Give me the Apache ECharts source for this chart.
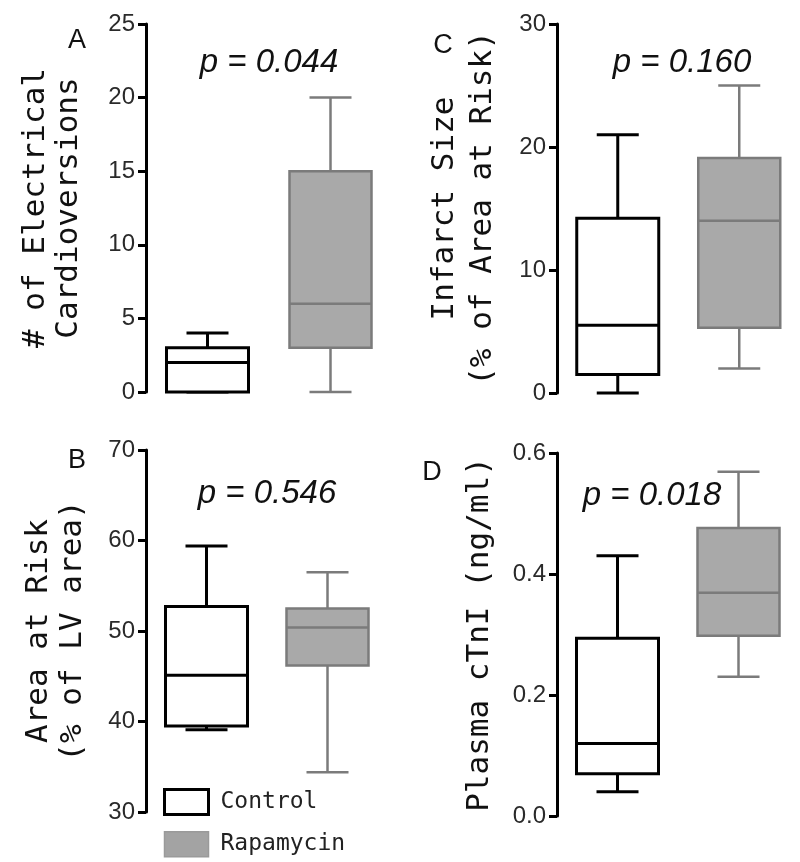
<!DOCTYPE html>
<html lang="en">
<head>
    <meta charset="UTF-8">
    <title>Rapamycin box plots</title>
    <script src="https://cdn.jsdelivr.net/npm/echarts@6/dist/echarts.min.js"></script>
    <style>
        html, body { margin: 0; padding: 0; background: #fff; }
        #main { width: 800px; height: 862px; }
    </style>
</head>
<body>
<div id="main"></div>
<script>
    // groups on every panel
    var groups = ['Control', 'Rapamycin'];

    // box values: [min, Q1, median, Q3, max]
    var cardioControl = [0, 0, 2, 3, 4];
    var cardioRapa = [0, 3, 6, 15, 20];
    var aarControl = [39.1, 39.5, 45.1, 52.7, 59.4];
    var aarRapa = [34.4, 46.2, 50.4, 52.5, 56.5];
    var infarctControl = [0, 1.5, 5.5, 14.2, 21];
    var infarctRapa = [2, 5.3, 14, 19.1, 25];
    var ctniControl = [0.04, 0.07, 0.12, 0.294, 0.43];
    var ctniRapa = [0.23, 0.298, 0.369, 0.476, 0.569];

    // p values, panels A B C D
    var pValues = ['0.044', '0.546', '0.160', '0.018'];

    var monoFont = '"DejaVu Sans Mono", "Liberation Mono", monospace';
    var sansFont = '"Liberation Sans", Arial, sans-serif';

    var styles = {
        Control: { fill: '#ffffff', stroke: '#000000', lineWidth: 3 },
        Rapamycin: { fill: '#a9a9a9', stroke: '#7b7b7b', lineWidth: 2.5 }
    };

    // draws one box with whiskers using the axis scales
    function renderBox(params, api) {
        var idx = api.value(0);
        var x = api.coord([idx, 0])[0];
        var y = [];
        for (var k = 1; k <= 5; k++) {
            y.push(api.coord([idx, api.value(k)])[1]);
        }
        var st = styles[params.seriesName];
        var boxHalf = 41, capHalf = 21;
        var lineStyle = { stroke: st.stroke, lineWidth: st.lineWidth };
        return {
            type: 'group',
            children: [
                { type: 'line', shape: { x1: x, y1: y[0], x2: x, y2: y[1] }, style: lineStyle },
                { type: 'line', shape: { x1: x, y1: y[3], x2: x, y2: y[4] }, style: lineStyle },
                { type: 'line', shape: { x1: x - capHalf, y1: y[0], x2: x + capHalf, y2: y[0] }, style: lineStyle },
                { type: 'line', shape: { x1: x - capHalf, y1: y[4], x2: x + capHalf, y2: y[4] }, style: lineStyle },
                {
                    type: 'rect',
                    shape: { x: x - boxHalf, y: y[3], width: boxHalf * 2, height: y[1] - y[3] },
                    style: { fill: st.fill, stroke: st.stroke, lineWidth: st.lineWidth }
                },
                { type: 'line', shape: { x1: x - boxHalf, y1: y[2], x2: x + boxHalf, y2: y[2] }, style: lineStyle }
            ]
        };
    }

    function yAxisFor(gridIndex, min, max, interval, name, gap, lineHeight, formatter) {
        return {
            gridIndex: gridIndex,
            type: 'value',
            min: min,
            max: max,
            interval: interval,
            name: name,
            nameLocation: 'middle',
            nameRotate: 90,
            nameGap: gap,
            nameTextStyle: {
                fontFamily: monoFont,
                fontSize: 31,
                color: '#111',
                lineHeight: lineHeight,
                align: 'center'
            },
            splitLine: { show: false },
            axisLine: { show: true, lineStyle: { color: '#000', width: 3 } },
            axisTick: { show: true, inside: false, length: 8, lineStyle: { color: '#000', width: 3 } },
            axisLabel: {
                margin: 11,
                fontFamily: sansFont,
                fontSize: 24,
                color: '#2a2a2a',
                formatter: formatter
            }
        };
    }

    function xAxisFor(gridIndex) {
        return {
            gridIndex: gridIndex,
            type: 'category',
            data: groups,
            show: false
        };
    }

    function boxSeries(gridIndex, name, idx, values) {
        return {
            name: name,
            type: 'custom',
            xAxisIndex: gridIndex,
            yAxisIndex: gridIndex,
            renderItem: renderBox,
            encode: { x: 0, y: [1, 2, 3, 4, 5] },
            itemStyle: { color: styles[name].fill, borderColor: styles[name].stroke },
            data: [[idx].concat(values)],
            silent: true
        };
    }

    var fixed1 = function (v) { return v.toFixed(1); };

    function letter(x, y, text) {
        return { type: 'text', style: { x: x, y: y, text: text, fontFamily: sansFont, fontSize: 27, fill: '#111', align: 'center', verticalAlign: 'middle' } };
    }

    function pLabel(x, y, value) {
        return { type: 'text', style: { x: x, y: y, text: 'p = ' + value, fontFamily: sansFont, fontStyle: 'italic', fontSize: 33, fill: '#111', align: 'center', verticalAlign: 'middle' } };
    }

    var option = {
        animation: false,
        grid: [
            { left: 146, top: 24, width: 246, height: 368 },
            { left: 146, top: 450, width: 242, height: 362 },
            { left: 557, top: 24, width: 246, height: 369 },
            { left: 557, top: 453, width: 242, height: 363 }
        ],
        xAxis: [xAxisFor(0), xAxisFor(1), xAxisFor(2), xAxisFor(3)],
        yAxis: [
            yAxisFor(0, 0, 25, 5, '# of Electrical\nCardioversions', 61, 33),
            yAxisFor(1, 30, 70, 10, 'Area at Risk\n(% of LV area)', 56, 34),
            yAxisFor(2, 0, 30, 10, 'Infarct Size\n(% of Area at Risk)', 55, 38),
            yAxisFor(3, 0, 0.6, 0.2, 'Plasma cTnI (ng/ml)', 60, 34, fixed1)
        ],
        legend: {
            orient: 'vertical',
            left: 158,
            top: 783,
            icon: 'rect',
            itemWidth: 44,
            itemHeight: 25,
            itemGap: 15,
            selectedMode: false,
            textStyle: {
                fontFamily: monoFont,
                fontSize: 23,
                color: '#222',
                padding: [0, 0, 0, 7]
            },
            data: [
                { name: 'Control', itemStyle: { color: '#ffffff', borderColor: '#000', borderWidth: 3 } },
                { name: 'Rapamycin', itemStyle: { color: '#a3a3a3', borderColor: '#9a9a9a', borderWidth: 1.5 } }
            ]
        },
        graphic: [
            letter(77, 41, 'A'),
            letter(77, 461, 'B'),
            letter(443, 46, 'C'),
            letter(432, 473, 'D'),
            pLabel(269, 63, pValues[0]),
            pLabel(267, 494, pValues[1]),
            pLabel(682, 63, pValues[2]),
            pLabel(652, 496, pValues[3])
        ],
        series: [
            boxSeries(0, 'Control', 0, cardioControl),
            boxSeries(0, 'Rapamycin', 1, cardioRapa),
            boxSeries(1, 'Control', 0, aarControl),
            boxSeries(1, 'Rapamycin', 1, aarRapa),
            boxSeries(2, 'Control', 0, infarctControl),
            boxSeries(2, 'Rapamycin', 1, infarctRapa),
            boxSeries(3, 'Control', 0, ctniControl),
            boxSeries(3, 'Rapamycin', 1, ctniRapa)
        ]
    };

    var myChart = echarts.init(document.getElementById('main'));
    myChart.setOption(option);
</script>
</body>
</html>
